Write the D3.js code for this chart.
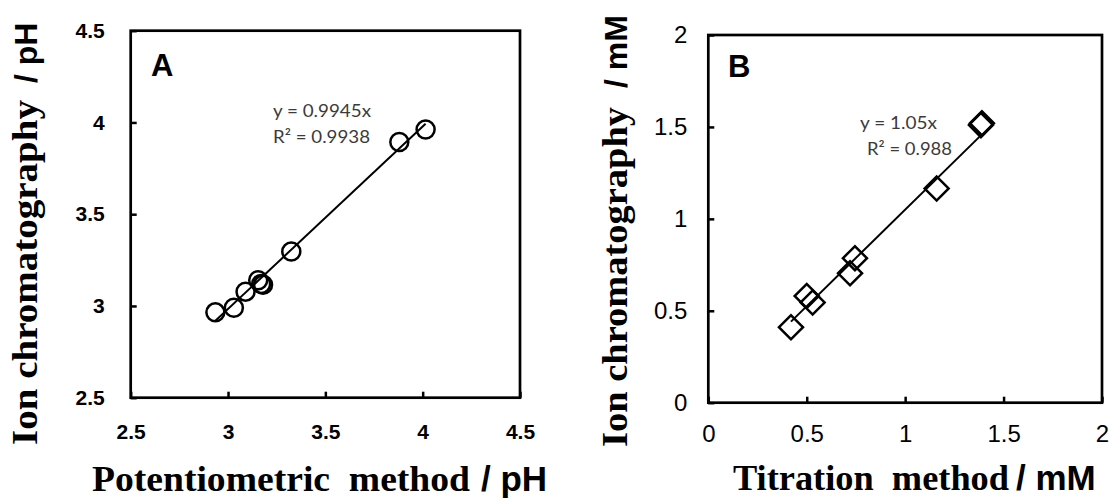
<!DOCTYPE html>
<html>
<head>
<meta charset="utf-8">
<script src="https://cdn.jsdelivr.net/npm/d3@7"></script>
<style>
body { margin: 0; background: #fff; }
svg { display: block; }
</style>
</head>
<body>
<svg id="chart"></svg>
<script>
// panel A : pH
var phTicks = [2.5, 3, 3.5, 4, 4.5]
var phPotentiometric = [2.935, 3.03, 3.09, 3.155, 3.17, 3.18, 3.325, 3.88, 4.015]
var phIonChrom = [2.965, 2.99, 3.078, 3.14, 3.12, 3.115, 3.297, 3.893, 3.962]
var phSlope = 0.9945
var phFit = ["y = 0.9945x", "R\u00B2 = 0.9938"]

// panel B : mM
var mmTicks = [0, 0.5, 1, 1.5, 2]
var mmTitration = [0.42, 0.5, 0.53, 0.72, 0.745, 1.16, 1.385, 1.39]
var mmIonChrom = [0.41, 0.58, 0.545, 0.704, 0.786, 1.165, 1.51, 1.52]
var mmSlope = 1.05
var mmFit = ["y = 1.05x", "R\u00B2 = 0.988"]

var serif = "'Liberation Serif','Times New Roman',serif"
var sans = "'Liberation Sans',Arial,sans-serif"

var svg = d3.select("#chart")
    .attr("width", 1110)
    .attr("height", 502)

svg.append("rect").attr("width", 1110).attr("height", 502).attr("fill", "#fff")

var drawPanel = function(p)
{
    var xScale = d3.scaleLinear()
        .domain(d3.extent(p.ticks))
        .range([p.box.left, p.box.right])
    var yScale = d3.scaleLinear()
        .domain(d3.extent(p.ticks))
        .range([p.box.bottom, p.box.top])

    var g = svg.append("g")

    var xAxis = d3.axisBottom(xScale)
        .tickValues(p.ticks)
        .tickFormat(d3.format("~g"))
        .tickSizeInner(-6)
        .tickSizeOuter(0)
        .tickPadding(p.xPad)
    var yAxis = d3.axisLeft(yScale)
        .tickValues(p.ticks)
        .tickFormat(d3.format("~g"))
        .tickSizeInner(-6)
        .tickSizeOuter(0)
        .tickPadding(p.yPad)

    var axes = [
        g.append("g").attr("transform", "translate(0," + p.box.bottom + ")").call(xAxis),
        g.append("g").attr("transform", "translate(" + p.box.left + ",0)").call(yAxis)
    ]
    axes.forEach(function(a)
    {
        a.select(".domain").remove()
        a.selectAll(".tick line").attr("stroke", "#000").attr("stroke-width", 2.5)
        a.selectAll(".tick text")
            .attr("fill", "#000")
            .attr("font-family", sans)
            .attr("font-size", p.tickSize)
            .attr("font-weight", p.tickWeight)
    })

    // frame
    g.append("rect")
        .attr("x", p.box.left)
        .attr("y", p.box.top)
        .attr("width", p.box.right - p.box.left)
        .attr("height", p.box.bottom - p.box.top)
        .attr("fill", "none")
        .attr("stroke", "#000")
        .attr("stroke-width", 2.7)

    // trend line through origin
    var xs = d3.extent(p.xs)
    g.append("line")
        .attr("x1", xScale(xs[0]))
        .attr("y1", yScale(p.slope * xs[0]))
        .attr("x2", xScale(xs[1]))
        .attr("y2", yScale(p.slope * xs[1]))
        .attr("stroke", "#000")
        .attr("stroke-width", 2)

    var pts = p.xs.map(function(d, i) { return {x: d, y: p.ys[i]} })
    if (p.marker == "circle")
    {
        g.selectAll("circle.pt")
            .data(pts)
            .enter()
            .append("circle")
            .attr("class", "pt")
            .attr("cx", function(d) { return xScale(d.x) })
            .attr("cy", function(d) { return yScale(d.y) })
            .attr("r", 9)
            .attr("fill", "none")
            .attr("stroke", "#000")
            .attr("stroke-width", 2.5)
    }
    else
    {
        g.selectAll("path.pt")
            .data(pts)
            .enter()
            .append("path")
            .attr("class", "pt")
            .attr("d", d3.symbol().type(d3.symbolSquare).size(17 * 17))
            .attr("transform", function(d) { return "translate(" + xScale(d.x) + "," + yScale(d.y) + ") rotate(45)" })
            .attr("fill", "none")
            .attr("stroke", "#000")
            .attr("stroke-width", 2.5)
    }

    // fit equation
    p.fit.forEach(function(t, i)
    {
        g.append("text")
            .text(t)
            .attr("x", p.fitPos[i][0])
            .attr("y", p.fitPos[i][1])
            .attr("textLength", p.fitPos[i][2])
            .attr("lengthAdjust", "spacingAndGlyphs")
            .attr("font-family", "Lato, 'Open Sans', sans-serif")
            .attr("font-size", 18)
            .attr("fill", "#3b3b3b")
    })

    // panel letter
    g.append("text")
        .text(p.letter)
        .attr("x", p.letterPos[0])
        .attr("y", p.letterPos[1])
        .attr("font-family", sans)
        .attr("font-weight", "bold")
        .attr("font-size", 31)

    // x title
    g.append("text")
        .text(p.xTitle[0])
        .attr("x", p.xTitlePos[0])
        .attr("y", p.xTitlePos[1])
        .attr("textLength", p.xTitlePos[2])
        .attr("lengthAdjust", "spacingAndGlyphs")
        .attr("font-family", serif)
        .attr("font-weight", "bold")
        .attr("font-size", 36)
        .style("white-space", "pre")
    g.append("text")
        .text(p.xTitle[1])
        .attr("x", p.xUnitPos[0])
        .attr("y", p.xTitlePos[1])
        .attr("font-family", sans)
        .attr("font-weight", "bold")
        .attr("font-size", 35)
        .style("white-space", "pre")

    // y title, rotated
    g.append("text")
        .text("Ion chromatography")
        .attr("transform", "translate(" + p.yTitlePos[0] + "," + p.yTitlePos[1] + ") rotate(-90)")
        .attr("textLength", p.yTitlePos[2])
        .attr("lengthAdjust", "spacingAndGlyphs")
        .attr("font-family", serif)
        .attr("font-weight", "bold")
        .attr("font-size", 36)
    g.append("text")
        .text(p.yUnit)
        .attr("transform", "translate(" + p.yTitlePos[0] + "," + p.yUnitPos + ") rotate(-90)")
        .attr("font-family", sans)
        .attr("font-weight", "bold")
        .attr("font-size", 32)
        .style("white-space", "pre")
}

drawPanel({
    box: {left: 130.7, top: 30.7, right: 520, bottom: 397.7},
    ticks: phTicks, xs: phPotentiometric, ys: phIonChrom, slope: phSlope,
    marker: "circle", fit: phFit, fitPos: [[273, 117, 98], [273, 143, 97]],
    letter: "A", letterPos: [151, 76],
    tickSize: 21, tickWeight: "bold", xPad: 26, yPad: 26,
    xTitle: ["Potentiometric  method", "/ pH"], xTitlePos: [92, 491, 378], xUnitPos: [481],
    yTitlePos: [37, 445, 345], yUnit: "/ pH", yUnitPos: 83
})

drawPanel({
    box: {left: 708.3, top: 35, right: 1102, bottom: 402.7},
    ticks: mmTicks, xs: mmTitration, ys: mmIonChrom, slope: mmSlope,
    marker: "diamond", fit: mmFit, fitPos: [[860, 129, 77], [867, 155, 85]],
    letter: "B", letterPos: [728, 77],
    tickSize: 24, tickWeight: "normal", xPad: 22, yPad: 21,
    xTitle: ["Titration  method", "/ mM"], xTitlePos: [733, 490, 276], xUnitPos: [1016],
    yTitlePos: [627, 447, 340], yUnit: "/ mM", yUnitPos: 88
})
</script>
</body>
</html>
